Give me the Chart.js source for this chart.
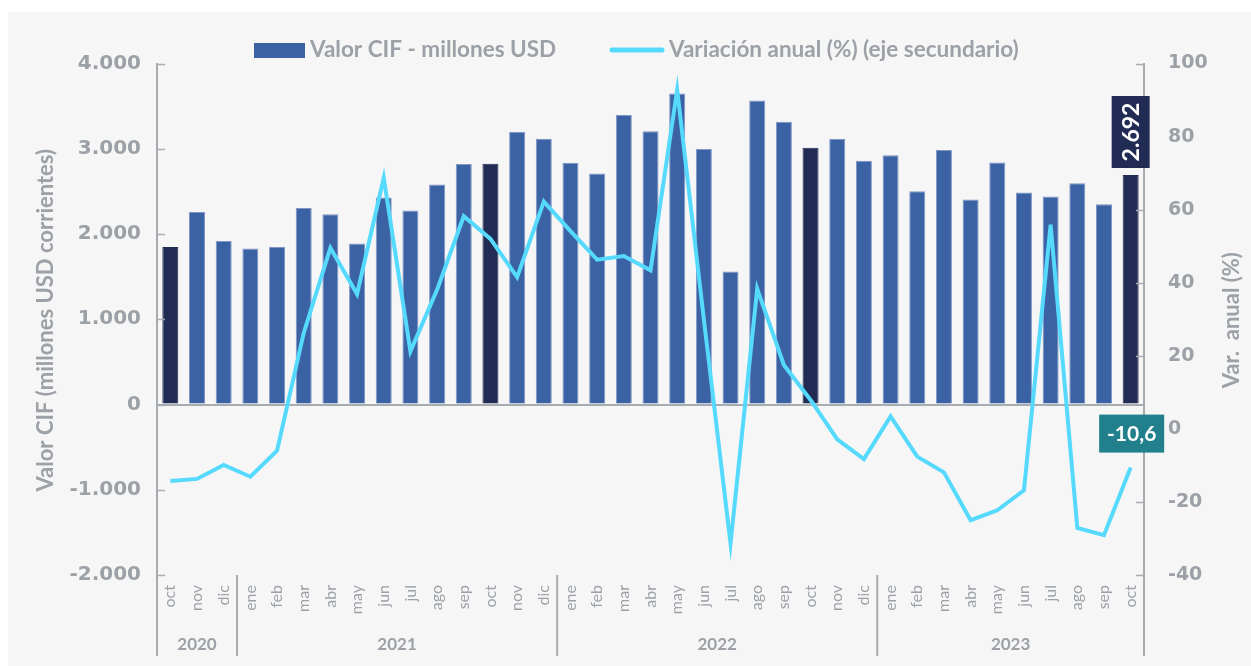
<!DOCTYPE html>
<html>
<head>
<meta charset="utf-8">
<script src="https://cdn.jsdelivr.net/npm/chart.js@4.4.0/dist/chart.umd.min.js"></script>
<style>
  html, body { margin: 0; padding: 0; background: #ffffff; }
  #c { display: block; }
</style>
</head>
<body>
<canvas id="c" width="1251" height="666"></canvas>
<script>
// ---------- DATA ----------
const months = ['oct','nov','dic',
  'ene','feb','mar','abr','may','jun','jul','ago','sep','oct','nov','dic',
  'ene','feb','mar','abr','may','jun','jul','ago','sep','oct','nov','dic',
  'ene','feb','mar','abr','may','jun','jul','ago','sep','oct'];

const valorCIF = [1847, 2259, 1918,
  1831, 1847, 2306, 2231, 1890, 2427, 2275, 2580, 2820, 2824, 3200, 3118,
  2835, 2710, 3396, 3204, 3647, 2996, 1561, 3565, 3318, 3012, 3114, 2859,
  2925, 2502, 2984, 2404, 2839, 2486, 2439, 2596, 2349, 2692];

const variacion = [-14.3, -13.7, -9.9,
  -13.1, -6.0, 26.2, 49.5, 36.9, 68.7, 21.2, 38.1, 58.2, 52.0, 41.5, 62.2,
  54.1, 46.3, 47.3, 43.4, 92.8, 30.0, -31.4, 38.3, 17.5, 7.9, -2.9, -8.3,
  3.4, -7.6, -11.9, -25.0, -22.3, -16.8, 55.9, -27.1, -29.1, -10.6];

const yearLabels = ['2020', '2021', '2022', '2023'];
const yearMonthCounts = [3, 12, 12, 10];

const leftTicks = { min: -2000, max: 4000, step: 1000 };
const rightTicks = { min: -40, max: 100, step: 20 };

const seriesNames = ['Valor CIF - millones USD', 'Variación anual (%) (eje secundario)'];
const axisTitles = ['Valor CIF (millones USD corrientes)', 'Var.  anual (%)'];

// ---------- STYLE ----------
const BLUE = '#3b62a5';
const NAVY = '#212b53';
const CYAN = '#55d9fd';
const TEAL = '#21808b';
const AXIS = '#a7acb1';
const TEXT = '#9ca1a7';
const BG = '#f6f6f6';

const fmtThousands = v => {
  const s = Math.abs(v).toString().replace(/\B(?=(\d{3})+(?!\d))/g, '.');
  return (v < 0 ? '-' : '') + s;
};
const fmtDecimal = v => v.toFixed(1).replace('.', ',');

const bgPlugin = {
  id: 'bg',
  beforeDraw(chart) {
    const c = chart.ctx;
    c.save();
    c.fillStyle = '#ffffff';
    c.fillRect(0, 0, chart.width, chart.height);
    c.fillStyle = BG;
    c.fillRect(8, 12, chart.width - 8, chart.height - 12);
    c.restore();
  }
};

const extrasPlugin = {
  id: 'extras',
  afterDraw(chart) {
    const c = chart.ctx;
    const x = chart.scales.x, y = chart.scales.y, y1 = chart.scales.y1;
    const area = chart.chartArea;
    c.save();

    // inward tick marks
    c.strokeStyle = AXIS;
    c.lineWidth = 1.5;
    y.ticks.forEach(t => {
      const py = Math.round(y.getPixelForValue(t.value)) + 0.5;
      c.beginPath(); c.moveTo(area.left, py); c.lineTo(area.left + 8, py); c.stroke();
    });
    y1.ticks.forEach(t => {
      const py = Math.round(y1.getPixelForValue(t.value)) + 0.5;
      c.beginPath(); c.moveTo(area.right - 8, py); c.lineTo(area.right, py); c.stroke();
    });

    // axis titles (both read bottom-to-top)
    const midY = (area.top + area.bottom) / 2 + 1;
    c.fillStyle = TEXT;
    c.font = 'bold 22px Lato';
    c.textAlign = 'center';
    c.textBaseline = 'middle';
    [[46, axisTitles[0]], [1232, axisTitles[1]]].forEach(([tx, txt]) => {
      c.save();
      c.translate(tx, midY);
      c.rotate(-Math.PI / 2);
      c.fillText(txt, 0, 0);
      c.restore();
    });

    // year groups
    const half = (x.getPixelForValue(1) - x.getPixelForValue(0)) / 2;
    let start = 0;
    c.lineWidth = 2;
    c.strokeStyle = AXIS;
    c.font = 'bold 17px Lato';
    const edges = [];
    yearLabels.forEach((lab, i) => {
      const n = yearMonthCounts[i];
      const l = x.getPixelForValue(start) - half;
      const r = x.getPixelForValue(start + n - 1) + half;
      edges.push(l); if (i === yearLabels.length - 1) edges.push(r);
      c.fillText(lab, (l + r) / 2, 645);
      start += n;
    });
    edges.forEach(ex => {
      c.beginPath(); c.moveTo(ex, area.bottom); c.lineTo(ex, 656); c.stroke();
    });

    // legend
    c.textAlign = 'left';
    c.font = 'bold 22.5px Lato';
    c.fillStyle = BLUE;
    c.fillRect(254, 43, 51, 15);
    c.fillStyle = TEXT;
    c.fillText(seriesNames[0], 310, 50);
    c.strokeStyle = CYAN;
    c.lineWidth = 5;
    c.lineCap = 'round';
    c.beginPath(); c.moveTo(612, 50); c.lineTo(662, 50); c.stroke();
    c.fillText(seriesNames[1], 669, 50);

    // annotations
    const last = valorCIF.length - 1;
    const bar = chart.getDatasetMeta(1).data[last];
    const bw = 38, bh = 72;
    c.fillStyle = NAVY;
    c.fillRect(bar.x - bw / 2, bar.y - 7 - bh, bw, bh);
    c.save();
    c.translate(bar.x, bar.y - 7 - bh / 2);
    c.rotate(-Math.PI / 2);
    c.fillStyle = '#ffffff';
    c.font = 'bold 23px Lato';
    c.textAlign = 'center';
    c.textBaseline = 'middle';
    c.fillText(fmtThousands(valorCIF[last]), 0, 1);
    c.restore();

    const pt = chart.getDatasetMeta(0).data[last];
    const lw = 65, lh = 38;
    c.fillStyle = TEAL;
    c.fillRect(pt.x + 1 - lw / 2, pt.y - 15 - lh, lw, lh);
    c.fillStyle = '#ffffff';
    c.font = 'bold 21px Lato';
    c.textAlign = 'center';
    c.textBaseline = 'middle';
    c.fillText(fmtDecimal(variacion[last]), pt.x + 1, pt.y - 15 - lh / 2 + 1);

    c.restore();
  }
};

new Chart(document.getElementById('c'), {
  data: {
    labels: months,
    datasets: [
      {
        type: 'line',
        label: seriesNames[1],
        data: variacion,
        yAxisID: 'y1',
        borderColor: CYAN,
        borderWidth: 4,
        pointRadius: 0,
        tension: 0,
        order: 0
      },
      {
        type: 'bar',
        label: seriesNames[0],
        data: valorCIF,
        yAxisID: 'y',
        backgroundColor: ctx => months[ctx.dataIndex] === 'oct' ? NAVY : BLUE,
        borderColor: ctx => months[ctx.dataIndex] === 'oct' ? NAVY : '#8096c3',
        borderWidth: 1,
        borderSkipped: 'bottom',
        barPercentage: 0.6,
        categoryPercentage: 1,
        order: 1
      }
    ]
  },
  plugins: [bgPlugin, extrasPlugin],
  options: {
    responsive: false,
    animation: false,
    layout: { padding: { top: 63.5, left: 0, right: 0, bottom: 0 } },
    plugins: { legend: { display: false }, tooltip: { enabled: false } },
    scales: {
      x: {
        type: 'category',
        offset: true,
        grid: { display: false, drawTicks: false },
        border: { display: false },
        ticks: {
          minRotation: 90, maxRotation: 90, autoSkip: false,
          padding: 10,
          color: TEXT,
          font: { family: 'Lato', size: 16 }
        },
        afterFit: s => { s.height = 91; }
      },
      y: {
        position: 'left',
        min: leftTicks.min, max: leftTicks.max,
        ticks: {
          stepSize: leftTicks.step,
          padding: 16,
          color: TEXT,
          font: { family: 'DejaVu Sans', size: 20, weight: 'bold' },
          callback: v => fmtThousands(v)
        },
        grid: {
          drawTicks: false,
          color: ctx => (ctx.tick && ctx.tick.value === 0) ? AXIS : 'rgba(0,0,0,0)',
          lineWidth: 2
        },
        border: { display: true, color: AXIS, width: 2 },
        title: { display: false },
        afterFit: s => { s.width = 157; }
      },
      y1: {
        position: 'right',
        min: rightTicks.min, max: rightTicks.max,
        ticks: {
          stepSize: rightTicks.step,
          padding: 24,
          color: TEXT,
          font: { family: 'DejaVu Sans', size: 19, weight: 'bold' }
        },
        grid: { drawOnChartArea: false, drawTicks: false },
        border: { display: true, color: AXIS, width: 2 },
        title: { display: false },
        afterFit: s => { s.width = 107; }
      }
    }
  }
});
</script>
</body>
</html>
